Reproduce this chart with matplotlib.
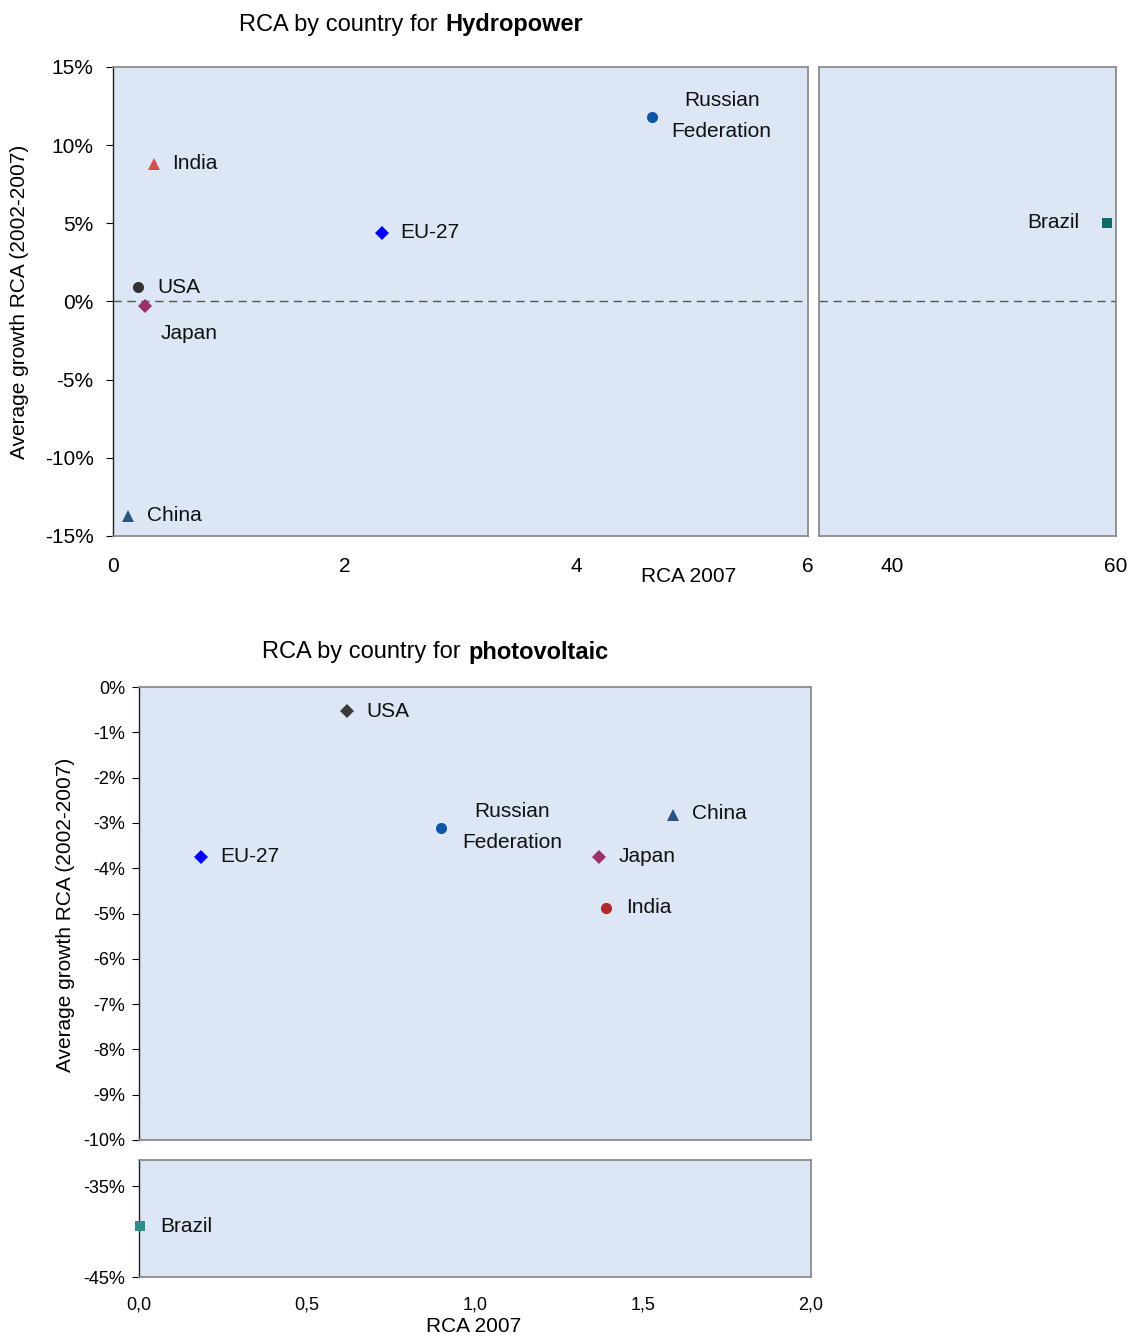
import matplotlib
matplotlib.use("Agg")
import matplotlib.pyplot as plt
import matplotlib.ticker as ticker

plt.rcParams["font.family"] = ["Liberation Sans", "DejaVu Sans"]

# Hydropower: RCA 2007 vs average growth (%)
hydro_countries = ["Russian\nFederation", "India", "EU-27", "USA", "Japan", "China", "Brazil"]
hydro_rca = [4.65, 0.35, 2.32, 0.22, 0.28, 0.13, 59.2]
hydro_growth = [11.8, 8.8, 4.4, 0.9, -0.3, -13.7, 5.0]

# Photovoltaic
pv_countries = ["USA", "Russian\nFederation", "EU-27", "China", "Japan", "India", "Brazil"]
pv_rca = [0.62, 0.90, 0.185, 1.59, 1.37, 1.39, 0.003]
pv_growth = [-0.53, -3.11, -3.75, -2.83, -3.75, -4.87, -39.4]

BG = "#dce6f4"
EDGE = "#8c8c8c"

hydro_style = {
    "Russian\nFederation": ("o", "#0d56a6", 8),
    "India": ("^", "#d5504c", 9),
    "EU-27": ("D", "#0000ff", 7),
    "USA": ("o", "#333333", 8),
    "Japan": ("D", "#993366", 7),
    "China": ("^", "#2a5282", 9),
    "Brazil": ("s", "#0c6b64", 7),
}
pv_style = {
    "USA": ("D", "#3a3a3a", 7),
    "Russian\nFederation": ("o", "#0d56a6", 8),
    "EU-27": ("D", "#0000ff", 7),
    "China": ("^", "#2a5282", 9),
    "Japan": ("D", "#993366", 7),
    "India": ("o", "#b02828", 8),
    "Brazil": ("s", "#2e8f8c", 7),
}
# label offsets in pixels (dx, dy, ha)
hydro_offsets = {
    "Russian\nFederation": (70, 1, "center"),
    "India": (19, 0, "left"),
    "EU-27": (19, 0, "left"),
    "USA": (19, 0, "left"),
    "Japan": (15, -27, "left"),
    "China": (19, 0, "left"),
    "Brazil": (-28, 1, "right"),
}
pv_offsets = {
    "USA": (19, 0, "left"),
    "Russian\nFederation": (71, 1, "center"),
    "EU-27": (19, 0, "left"),
    "China": (19, 2, "left"),
    "Japan": (19, 0, "left"),
    "India": (20, 0, "left"),
    "Brazil": (20, 0, "left"),
}

W, H = 1141, 1336
fig = plt.figure(figsize=(W / 100, H / 100), dpi=100)


def box(x0, y0, x1, y1):
    return [x0 / W, 1 - y1 / H, (x1 - x0) / W, (y1 - y0) / H]


def style_ax(ax, left_dark=True):
    ax.set_facecolor(BG)
    for s in ax.spines.values():
        s.set_color(EDGE)
        s.set_linewidth(1.3)
    if left_dark:
        ax.spines["left"].set_color("#222222")
        ax.spines["left"].set_linewidth(1.0)


pct = ticker.FuncFormatter(lambda v, _: f"{v:.0f}%")


def put(ax, x, y, name, styles, offsets, fs=15):
    m, c, ms = styles[name]
    ax.plot([x], [y], marker=m, color=c, markersize=ms, linestyle="none",
            markeredgewidth=0, zorder=3, clip_on=False)
    dx, dy, ha = offsets[name]
    ax.annotate(name, (x, y), xytext=(dx, dy), textcoords="offset pixels",
                ha=ha, va="center", fontsize=fs, linespacing=1.75,
                multialignment="center", color="#111111")


# ---------- Hydropower (broken x axis) ----------
axL = fig.add_axes(box(113, 67, 808, 536))
axR = fig.add_axes(box(819, 67, 1116, 536))
for ax in (axL, axR):
    style_ax(ax, left_dark=(ax is axL))
    ax.set_ylim(-15, 15)
    ax.axhline(0, color="#555555", linewidth=1, dashes=(6, 4), zorder=1)
    ax.tick_params(axis="x", length=0, pad=15, labelsize=15)
axL.set_xlim(0, 6)
axL.set_xticks([0, 2, 4, 6])
axR.set_xlim(33.5, 60)
axR.set_xticks([40, 60])
axL.set_yticks(range(-15, 16, 5))
axL.yaxis.set_major_formatter(pct)
axL.tick_params(axis="y", length=5, labelsize=15, pad=9)
axR.set_yticks([])

for name, x, y in zip(hydro_countries, hydro_rca, hydro_growth):
    ax = axR if x > 6 else axL
    put(ax, x, y, name, hydro_style, hydro_offsets)

fig.text(438 / W, 1 - 25 / H, "RCA by country for", ha="right", va="center", fontsize=17)
fig.text(445 / W, 1 - 25 / H, "Hydropower", ha="left", va="center", fontsize=17, fontweight="bold")
fig.text(689 / W, 1 - 576 / H, "RCA 2007", ha="center", va="center", fontsize=15)
fig.text(20 / W, 1 - 302 / H, "Average growth RCA (2002-2007)", ha="center", va="center",
         rotation=90, fontsize=15)

# ---------- Photovoltaic (broken y axis) ----------
axT = fig.add_axes(box(139, 687, 811, 1140))
axB = fig.add_axes(box(139, 1160, 811, 1277))
for ax in (axT, axB):
    style_ax(ax)
    ax.set_xlim(0, 2)
    ax.yaxis.set_major_formatter(pct)
    ax.tick_params(axis="y", length=5, labelsize=13, pad=5)
axT.set_ylim(-10, 0)
axT.set_yticks(range(-10, 1))
axT.set_xticks([])
axB.set_ylim(-45, -32.1)
axB.set_yticks([-45, -35])
axB.set_xticks([0, 0.5, 1.0, 1.5, 2.0])
axB.xaxis.set_major_formatter(ticker.FuncFormatter(lambda v, _: f"{v:.1f}".replace(".", ",")))
axB.tick_params(axis="x", length=0, pad=14, labelsize=13)

for name, x, y in zip(pv_countries, pv_rca, pv_growth):
    ax = axB if y < -10 else axT
    put(ax, x, y, name, pv_style, pv_offsets)

fig.text(461 / W, 1 - 652 / H, "RCA by country for", ha="right", va="center", fontsize=17)
fig.text(468 / W, 1 - 652 / H, "photovoltaic", ha="left", va="center", fontsize=17, fontweight="bold")
fig.text(474 / W, 1 - 1326 / H, "RCA 2007", ha="center", va="center", fontsize=15)
fig.text(66 / W, 1 - 915 / H, "Average growth RCA (2002-2007)", ha="center", va="center",
         rotation=90, fontsize=15)

fig.savefig("out.png", dpi=100)
